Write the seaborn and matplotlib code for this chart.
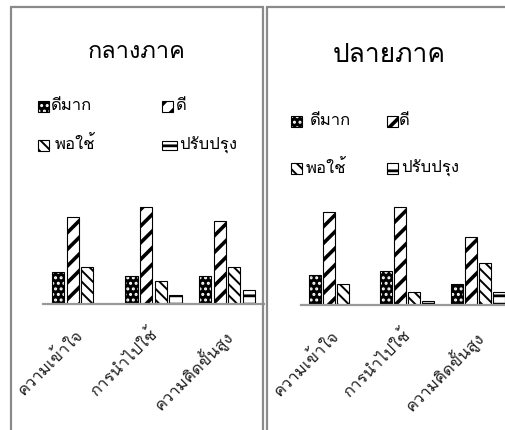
import matplotlib
matplotlib.use("Agg")
import matplotlib.pyplot as plt
import matplotlib.patches as mpatches
import matplotlib.transforms as mtransforms
from matplotlib import font_manager
from matplotlib.ft2font import FT2Font
import seaborn as sns
import pandas as pd

# ---------------- data ----------------
categories = ["ความเข้าใจ", "การนำไปใช้", "ความคิดขั้นสูง"]
levels = ["ดีมาก", "ดี", "พอใช้", "ปรับปรุง"]
panel_titles = ["กลางภาค", "ปลายภาค"]

mid_very_good = [7, 6, 6]
mid_good = [19, 21, 18]
mid_fair = [8, 5, 8]
mid_improve = [0, 2, 3]

final_very_good = [7, 8, 5]
final_good = [22, 23, 16]
final_fair = [5, 3, 10]
final_improve = [0, 1, 3]

# ---------------- fonts ----------------
sns.set_theme(style="white")
thai_candidates = []
for fe in font_manager.fontManager.ttflist:
    try:
        if 0x0E01 in FT2Font(fe.fname).get_charmap():
            thai_candidates.append(fe.name)
    except Exception:
        pass
preferred = ["Loma", "Garuda", "Tlwg Typo", "Noto Sans Thai", "Noto Sans Thai UI",
             "Sarabun", "Kinnari", "Norasi", "Waree", "Umpush", "Laksaman"]
thai_font = None
for p in preferred:
    if p in thai_candidates:
        thai_font = p
        break
if thai_font is None and thai_candidates:
    thai_font = sorted(set(thai_candidates))[0]
families = ([thai_font] if thai_font else []) + ["DejaVu Sans"]
plt.rcParams["font.family"] = families

W, H = 505, 430
fig = plt.figure(figsize=(W / 100, H / 100), dpi=100)
fig.patch.set_facecolor("white")


def fx(x):
    return x / W


def fy(y):
    return 1 - y / H


STYLES = {
    "ดีมาก": dict(face="black", hatch="...", hcol="white", hlw=1.4),
    "ดี": dict(face="white", hatch="//", hcol="black", hlw=2.6),
    "พอใช้": dict(face="white", hatch="\\\\\\", hcol="black", hlw=1.4),
    "ปรับปรุง": dict(face="white", hatch="--", hcol="black", hlw=2.0),
}


def style_patch(p, level, data_transform=None):
    st = STYLES[level]
    p.set_facecolor(st["face"])
    p.set_hatch(st["hatch"])
    if hasattr(p, "set_hatch_linewidth"):
        p.set_hatch_linewidth(st["hlw"])
    if st["hcol"] == "white":
        if hasattr(p, "set_hatchcolor"):
            p.set_edgecolor("black")
            p.set_hatchcolor("white")
            return []
        p.set_edgecolor("white")
        p.set_linewidth(0)
        border = mpatches.Rectangle(p.get_xy(), p.get_width(), p.get_height(),
                                    fill=False, edgecolor="black", lw=0.8,
                                    zorder=p.get_zorder() + 0.1)
        if data_transform is not None:
            border.set_transform(data_transform)
        return [border]
    p.set_edgecolor("black")
    return []


def make_panel(rect, vals, title_xy, title_size, legend_items, label_pad):
    ax = fig.add_axes(rect)
    rows = []
    for lvl, arr in zip(levels, vals):
        for c, v in zip(categories, arr):
            rows.append({"cat": c, "level": lvl, "value": v})
    df = pd.DataFrame(rows)
    sns.barplot(data=df, x="cat", y="value", hue="level", order=categories,
                hue_order=levels, palette={l: "white" for l in levels},
                edgecolor="black", linewidth=0.8, gap=0.165, width=0.8,
                legend=False, ax=ax, errorbar=None)
    for lvl, cont in zip(levels, ax.containers):
        for p in cont:
            for extra in style_patch(p, lvl, ax.transData):
                ax.add_patch(extra)
    ax.set_xlim(-0.5, 2.5)
    ax.set_ylim(0, 25)
    ax.patch.set_visible(False)
    for s in ["left", "right", "top"]:
        ax.spines[s].set_visible(False)
    ax.spines["bottom"].set_color("#999999")
    ax.spines["bottom"].set_linewidth(1.6)
    ax.spines["bottom"].set_zorder(5)
    ax.set_yticks([])
    ax.set_xlabel("")
    ax.set_ylabel("")
    ax.tick_params(axis="x", length=0, pad=label_pad)
    ax.set_xticks(range(len(categories)))
    ax.set_xticklabels(categories, rotation=45, ha="right",
                       rotation_mode="anchor", fontsize=12, color="#222222")
    shift = mtransforms.ScaledTranslation(-5 / 100, 0, fig.dpi_scale_trans)
    for lab in ax.get_xticklabels():
        lab.set_transform(lab.get_transform() + shift)
    fig.text(fx(title_xy[0]), fy(title_xy[1]), title_xy[2], ha="center",
             va="center", fontsize=title_size, color="black")
    for lvl, mx, my, mw, mh, tx in legend_items:
        st = STYLES[lvl]
        patch = mpatches.Rectangle((fx(mx), fy(my + mh / 2)), mw / W, mh / H,
                                   transform=fig.transFigure, facecolor=st["face"],
                                   edgecolor="black", lw=0.8, hatch=st["hatch"])
        extras = style_patch(patch, lvl, fig.transFigure)
        fig.add_artist(patch)
        for e in extras:
            fig.add_artist(e)
        fig.text(fx(tx), fy(my), lvl, ha="left", va="center", fontsize=12,
                 color="black")
    return ax


left_vals = [mid_very_good, mid_good, mid_fair, mid_improve]
right_vals = [final_very_good, final_good, final_fair, final_improve]

make_panel([43.25 / W, 1 - 304 / H, 220.5 / W, 115 / H], left_vals,
           (137, 52, panel_titles[0]), 17,
           [("ดีมาก", 38, 106, 11, 11, 51),
            ("ดี", 162, 106, 11, 11, 176),
            ("พอใช้", 38, 145, 11, 11, 55),
            ("ปรับปรุง", 162, 145, 15, 9, 179)],
           label_pad=16)
make_panel([300.5 / W, 1 - 305 / H, 213 / W, 106.25 / H], right_vals,
           (389, 55, panel_titles[1]), 19,
           [("ดีมาก", 291, 121, 11, 11, 310),
            ("ดี", 387, 121, 11, 11, 399),
            ("พอใช้", 291, 168.5, 11, 11, 306),
            ("ปรับปรุง", 387, 168.5, 11, 11, 401)],
           label_pad=16)

# panel frames
for x0, x1 in [(11, 263), (267, 530)]:
    fig.add_artist(mpatches.Rectangle((fx(x0), fy(450)), (x1 - x0) / W, (450 - 7) / H,
                                      transform=fig.transFigure, fill=False,
                                      edgecolor="#8a8a8a", lw=1.6, zorder=10))

fig.savefig("out.png", dpi=100, facecolor="white")
